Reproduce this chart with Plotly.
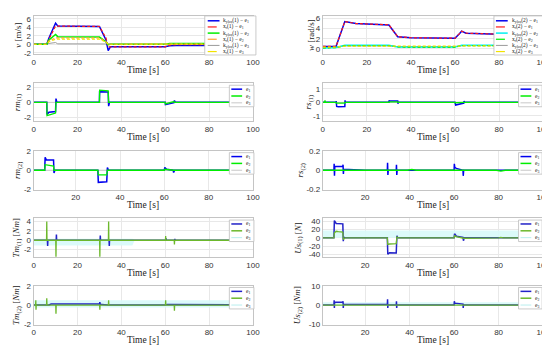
import plotly.graph_objects as go

W, H = 550, 345

# ---------------- data ----------------
# Panel 1: linear velocity v
t_v = [0, 6, 7, 10, 11, 30, 33, 34, 35, 60, 62, 64, 65, 100]
v_k1 = [0, 0, 1.5, 5.0, 4.3, 4.2, 1.0, -1.5, -0.6, -0.6, -0.35, -0.3, -0.3, -0.3]
v_x1 = [0, 0, 1.2, 4.3, 4.3, 4.2, 1.5, -0.6, -0.6, -0.6, -0.2, -0.1, -0.1, -0.1]
v_k2 = [0, 0, 1.0, 2.3, 1.8, 1.7, 0.6, -0.1, 0.0, 0.0, 0.2, 0.2, 0.2, 0.2]
v_x2 = [0, 0, 0.8, 1.5, 1.5, 1.5, 0.6, 0.0, 0.0, 0.0, 0.1, 0.1, 0.1, 0.1]
v_k3 = [0, 0, 0.2, 0.4, 0.1, 0.05, 0.0, 0, 0, 0, 0, 0, 0, 0]
v_x3 = [0, 0, 0.6, 1.2, 1.2, 1.2, 0.5, 0, 0, 0, 0.05, 0.05, 0.05, 0.05]

# Panel 2: angular velocity w
t_w = [0, 6, 10, 15, 30, 34, 40, 60, 62, 63, 65, 80, 100]
w_k1 = [0.5, 0.5, 5.4, 5.0, 4.7, 2.4, 2.2, 2.1, 3.0, 3.5, 3.1, 2.9, 2.8]
w_x1 = [0.5, 0.5, 5.4, 5.0, 4.75, 2.4, 2.2, 2.1, 3.0, 3.5, 3.1, 2.9, 2.8]
w_k2 = [0.2, 0.3, 0.7, 0.7, 0.7, 0.4, 0.4, 0.4, 0.6, 0.7, 0.7, 0.7, 0.7]
w_x2 = [0.2, 0.25, 0.65, 0.65, 0.65, 0.4, 0.35, 0.35, 0.55, 0.65, 0.65, 0.65, 0.65]
w_k3 = [0.4, 0.4, 0.6, 0.6, 0.6, 0.45, 0.45, 0.45, 0.6, 0.65, 0.65, 0.65, 0.65]
w_x3 = [0.35, 0.35, 0.55, 0.55, 0.55, 0.45, 0.45, 0.45, 0.55, 0.6, 0.6, 0.6, 0.6]

# Panel 3: rm(1)
t_rm1_e1 = [0, 6, 6.1, 7, 10, 10.2, 10.6, 30, 30.1, 34, 34.2, 34.6, 60, 60.1, 64, 64.2, 64.6, 100]
rm1_e1 = [0, 0, -1.6, -1.3, -1.2, 0.5, 0, 0, 1.4, 1.35, -0.5, 0, 0, -0.3, -0.05, 0.25, 0, 0]
t_rm1_e2 = [0, 6, 6.1, 10, 10.2, 30, 30.1, 34, 34.2, 60, 60.1, 64, 64.2, 100]
rm1_e2 = [0, 0, -1.75, -1.4, 0, 0, 1.6, 1.5, 0, 0, -0.2, 0.1, 0, 0]
t_rm1_e3 = [0, 100]
rm1_e3 = [0, 0]

# Panel 4: rs(1)
t_rs1_e1 = [0, 6, 6.1, 6.3, 7, 10, 10.1, 10.3, 30, 30.1, 30.3, 34, 34.1, 34.3,
            60, 60.1, 60.3, 64, 64.1, 64.3, 100]
rs1_e1 = [0, 0, 0.1, -0.3, -0.32, -0.3, 0.15, 0, 0, 0.15, 0.1, 0.1, -0.1, 0,
          0, -0.15, -0.2, -0.05, 0.1, 0, 0]
t_rs1_e2 = [0, 0.8, 1, 1.2, 6, 6.1, 10, 10.1, 30, 30.1, 34, 34.1, 60, 60.1, 64, 64.1, 100]
rs1_e2 = [0, 0, 0.15, 0, 0, -0.05, -0.05, 0, 0, 0.03, 0.03, 0, 0, -0.03, 0, 0, 0]
t_rs1_e3 = [0, 100]
rs1_e3 = [0, 0]

# Panel 5: rm(2)
t_rm2_e1 = [1, 6, 6.2, 6.8, 10, 10.2, 10.6, 30, 30.2, 34, 34.3, 34.8, 60, 60.2, 61, 64, 64.2, 64.6, 100]
rm2_e1 = [0, 0, 1.4, 1.1, 1.1, -0.3, 0, 0, -1.3, -1.25, 0.3, 0, 0, 0.3, 0.1, 0.0, -0.25, 0, 0]
t_rm2_e2 = [1, 6, 6.2, 10, 10.2, 30, 30.2, 34, 34.3, 60, 60.2, 64, 64.2, 100]
rm2_e2 = [0, 0, 0.6, 0.45, 0, 0, -0.5, -0.5, 0, 0, 0.1, 0, 0, 0]
t_rm2_e3 = [1, 100]
rm2_e3 = [0, 0]

# Panel 6: rs(2)
t_rs2_e1 = [1, 6, 6.1, 6.25, 6.4, 10, 10.1, 10.25, 10.4, 20, 30, 30.1, 30.25, 30.4,
            34, 34.1, 34.25, 34.4, 60, 60.1, 60.3, 61, 64, 64.1, 64.3, 100]
rs2_e1 = [0, 0, 0.07, -0.06, 0.04, 0.04, 0.06, -0.04, 0.01, 0.0, 0, 0.08, -0.05, 0,
          0, 0.06, -0.05, 0, 0, 0.07, 0.03, 0.02, 0.0, -0.06, 0, 0]
t_rs2_e2 = [1, 39, 41, 43, 79, 81, 83, 100]
rs2_e2 = [0, 0, 0.01, 0, 0, -0.01, 0, 0]
t_rs2_e3 = [1, 100]
rs2_e3 = [0, 0]

# Panel 7: Tm(1)
t_tm1_e1 = [0, 6.3, 6.4, 6.5, 10.3, 10.4, 10.5, 30.3, 30.4, 30.5, 34.4, 34.5, 34.6,
            60.3, 60.4, 60.5, 64.3, 64.4, 64.5, 100]
tm1_e1 = [0, 0, -1.2, 0, 0, 1.2, 0, 0, 1.0, 0, 0, -1.2, 0, 0, 0.4, 0, 0, 0.3, 0, 0]
t_tm1_e2 = [0, 5.9, 6.0, 6.1, 10.1, 10.2, 10.3, 30.1, 30.2, 30.3, 34.1, 34.2, 34.3,
            60.1, 60.2, 60.3, 64.1, 64.2, 64.3, 100]
tm1_e2 = [0, 0, 4.0, 0, 0, -3.5, 0, 0, -3.5, 0, 0, 4.0, 0, 0, 0.9, 0, 0, -0.9, 0, 0]
t_tm1_e3 = [0, 45, 46, 100]
tm1_e3_lo = [-1.1, -1.1, -0.1, -0.1]
tm1_e3_hi = [0.3, 0.3, 0.1, 0.1]

# Panel 8: Us(1)
t_us1_e1 = [1, 6, 6.2, 6.6, 7, 10, 10.2, 10.4, 10.8, 30, 30.2, 30.6, 31, 34, 34.3, 34.6, 35,
            40, 41, 42, 60, 60.2, 61, 64, 64.2, 64.5, 100]
us1_e1 = [0, 0, 42, 36, 35, 34, -8, 2, 0, 0, -40, -37, -36, -37, 5, 1, 0,
          0, -1, 0, 0, 10, 4, 1, -7, 0, 0]
t_us1_e2 = [1, 6, 6.2, 7, 8, 10, 10.2, 10.5, 11, 30, 30.2, 31, 34, 34.3, 34.6, 35,
            60, 60.2, 61, 64, 64.2, 80, 81, 82, 100]
us1_e2 = [0, 0, 12, 16, 15, 14, -4, -2, 0, 0, -16, -15, -14, 2, 0, 0,
          0, 5, 3, 0, -1, 0, 1, 0, 0]
t_us1_e3 = [1, 100]
us1_e3_lo = [0, 0]
us1_e3_hi = [18, 18]

# Panel 9: Tm(2)
t_tm2_e1 = [0, 7, 8, 29, 30, 30.2, 30.4, 31, 34, 60, 61, 90, 100]
tm2_e1 = [0, 0, 0.1, 0.1, 0.1, 0.3, 0.05, 0.05, 0, 0, 0.05, 0.02, 0]
t_tm2_e2 = [0, 0.9, 1.0, 1.1, 1.2, 5.9, 6.0, 6.1, 10.1, 10.2, 10.3, 30.1, 30.2, 30.3,
            34.1, 34.2, 34.3, 60.1, 60.2, 60.3, 64.1, 64.2, 64.3, 100]
tm2_e2 = [0, 0, 0.5, -0.5, 0, 0, 0.7, 0, 0, -0.9, 0, 0, -0.5, 0,
          0, 0.5, 0, 0, 0.5, 0, 0, -0.6, 0, 0]
t_tm2_e3 = [0, 100]
tm2_e3_lo = [-0.25, -0.25]
tm2_e3_hi = [0.5, 0.5]

# Panel 10: Us(2)
t_us2_e1 = [1, 6, 6.1, 6.2, 6.3, 10, 10.1, 10.2, 10.3, 30, 30.1, 30.2, 30.3,
            34, 34.1, 34.2, 34.3, 60, 60.1, 60.3, 64, 64.1, 64.2, 100]
us2_e1 = [0, 0, 2.5, -1.5, 1.5, 1.5, 2, -1.5, 0.3, 0.3, 3, -1.5, 0,
          0, 2, -1.5, 0, 0, 2, 1, 0.5, -1.5, 0, 0]
t_us2_e2 = [1, 100]
us2_e2 = [0, 0]
t_us2_e3 = [1, 100]
us2_e3_lo = [-0.5, -0.5]
us2_e3_hi = [1.5, 1.5]

x_ticks_full = [0, 20, 40, 60, 80, 100]
x_ticks_part = [20, 40, 60, 80, 100]

legend_top_left = ["k<sub>ylos</sub>(1) − e<sub>1</sub>", "x<sub>r</sub>(1) − e<sub>1</sub>",
                   "k<sub>ylos</sub>(1) − e<sub>2</sub>", "x<sub>r</sub>(1) − e<sub>2</sub>",
                   "k<sub>ylos</sub>(1) − e<sub>3</sub>", "x<sub>r</sub>(1) − e<sub>3</sub>"]
legend_top_right = ["k<sub>ylos</sub>(2) − e<sub>1</sub>", "x<sub>r</sub>(2) − e<sub>1</sub>",
                    "k<sub>ylos</sub>(2) − e<sub>2</sub>", "x<sub>r</sub>(2) − e<sub>2</sub>",
                    "k<sub>ylos</sub>(2) − e<sub>3</sub>", "x<sub>r</sub>(2) − e<sub>3</sub>"]
legend_small = ["e<sub>1</sub>", "e<sub>2</sub>", "e<sub>3</sub>"]

# ---------------- styling ----------------
BLUE = "#0000ee"
RED = "#ff1a1a"
GREEN = "#00ee00"
ORANGE = "#ffa033"
GRAY = "#9a9a9a"
YELLOW = "#f2e200"
CYAN = "#00f0f0"
DBLUE = "#2222c8"
OLIVE = "#6cb82c"
LCYAN = "rgba(215,250,250,0.9)"
LGRAY = "#c8c8c8"

COLS = [(24, 247), (318, 542)]
ROWS = [(4, 43), (73, 112), (142, 182), (211, 251), (280, 320)]


def px(x):
    return x / W


def py(y):
    return 1 - y / H


fig = go.Figure()


def sfx(k):
    return "" if k == 1 else str(k)


def line(k, t, y, color, width=1.3, dash="solid"):
    fig.add_trace(go.Scatter(x=t, y=y, mode="lines",
                             line=dict(color=color, width=width, dash=dash),
                             xaxis="x" + sfx(k), yaxis="y" + sfx(k),
                             showlegend=False, hoverinfo="skip"))


def band(k, t, lo, hi, color):
    fig.add_trace(go.Scatter(x=t, y=lo, mode="lines", line=dict(width=0, color=color),
                             xaxis="x" + sfx(k), yaxis="y" + sfx(k),
                             showlegend=False, hoverinfo="skip"))
    fig.add_trace(go.Scatter(x=t, y=hi, mode="lines", line=dict(width=0, color=color),
                             fill="tonexty", fillcolor=color,
                             xaxis="x" + sfx(k), yaxis="y" + sfx(k),
                             showlegend=False, hoverinfo="skip"))


DASH = "3px,2px"

# panel 1
line(1, t_v, v_k3, GRAY, 1.0)
line(1, t_v, v_k1, BLUE, 1.5)
line(1, t_v, v_x1, RED, 1.2, DASH)
line(1, t_v, v_k2, GREEN, 1.5)
line(1, t_v, v_x2, ORANGE, 1.2, DASH)
line(1, t_v, v_x3, YELLOW, 1.2, DASH)
# panel 2
line(2, t_w, w_k3, GRAY, 1.0)
line(2, t_w, w_k1, BLUE, 1.5)
line(2, t_w, w_x1, RED, 1.2, DASH)
line(2, t_w, w_k2, CYAN, 1.5)
line(2, t_w, w_x2, GREEN, 1.2, DASH)
line(2, t_w, w_x3, YELLOW, 1.2, DASH)
# panel 3-6
line(3, t_rm1_e3, rm1_e3, LGRAY, 1.0)
line(3, t_rm1_e1, rm1_e1, BLUE, 1.5)
line(3, t_rm1_e2, rm1_e2, GREEN, 1.3)
line(4, t_rs1_e3, rs1_e3, LGRAY, 1.0)
line(4, t_rs1_e1, rs1_e1, BLUE, 1.5)
line(4, t_rs1_e2, rs1_e2, GREEN, 1.3)
line(5, t_rm2_e3, rm2_e3, LGRAY, 1.0)
line(5, t_rm2_e1, rm2_e1, BLUE, 1.5)
line(5, t_rm2_e2, rm2_e2, GREEN, 1.3)
line(6, t_rs2_e3, rs2_e3, LGRAY, 1.0)
line(6, t_rs2_e1, rs2_e1, BLUE, 1.5)
line(6, t_rs2_e2, rs2_e2, GREEN, 1.3)
# panel 7-10
band(7, t_tm1_e3, tm1_e3_lo, tm1_e3_hi, LCYAN)
line(7, t_tm1_e1, tm1_e1, DBLUE, 1.5)
line(7, t_tm1_e2, tm1_e2, OLIVE, 1.3)
band(8, t_us1_e3, us1_e3_lo, us1_e3_hi, LCYAN)
line(8, t_us1_e1, us1_e1, DBLUE, 1.5)
line(8, t_us1_e2, us1_e2, OLIVE, 1.3)
band(9, t_tm2_e3, tm2_e3_lo, tm2_e3_hi, LCYAN)
line(9, t_tm2_e1, tm2_e1, DBLUE, 1.5)
line(9, t_tm2_e2, tm2_e2, OLIVE, 1.3)
band(10, t_us2_e3, us2_e3_lo, us2_e3_hi, LCYAN)
line(10, t_us2_e1, us2_e1, DBLUE, 1.5)
line(10, t_us2_e2, us2_e2, OLIVE, 1.3)

panels = [
    dict(xr=[0, 100], xt=x_ticks_full, yr=[-2.3, 6.7], yt=[-2, 0, 2, 4, 6],
         lab="<i>v</i> [m/s]", lx=8),
    dict(xr=[0, 100], xt=x_ticks_full, yr=[-1.0, 6.5], yt=[0, 2, 4, 6],
         lab="<i>w</i> [rad/s]", lx=306),
    dict(xr=[0, 100], xt=x_ticks_full, yr=[-2.5, 2.5], yt=[-2, 0, 2],
         lab="<i>rm</i><sub>(1)</sub>", lx=8),
    dict(xr=[0, 100], xt=x_ticks_full, yr=[-1.4, 1.4], yt=[-1, 0, 1],
         lab="<i>rs</i><sub>(1)</sub>", lx=304),
    dict(xr=[1, 100], xt=x_ticks_part, yr=[-2.1, 2.1], yt=[-2, 0, 2],
         lab="<i>rm</i><sub>(2)</sub>", lx=8),
    dict(xr=[1, 100], xt=x_ticks_part, yr=[-0.21, 0.21], yt=[-0.2, 0, 0.2],
         lab="<i>rs</i><sub>(2)</sub>", lx=296),
    dict(xr=[0, 100], xt=x_ticks_full, yr=[-3.6, 4.7], yt=[-2, 0, 2, 4],
         lab="<i>Tm</i><sub>(1)</sub> [<i>Nm</i>]", lx=7),
    dict(xr=[1, 100], xt=x_ticks_part, yr=[-47, 48], yt=[-40, -20, 0, 20, 40],
         lab="<i>Us</i><sub>(1)</sub> [<i>N</i>]", lx=293),
    dict(xr=[0, 100], xt=x_ticks_full, yr=[-2.05, 2.05], yt=[-2, 0, 2],
         lab="<i>Tm</i><sub>(2)</sub> [<i>Nm</i>]", lx=7),
    dict(xr=[1, 100], xt=x_ticks_part, yr=[-10.3, 10.3], yt=[-10, 0, 10],
         lab="<i>Us</i><sub>(2)</sub> [<i>Nm</i>]", lx=293),
]

layout = dict(width=W, height=H, margin=dict(l=0, r=0, t=0, b=0),
              paper_bgcolor="white", plot_bgcolor="white", showlegend=False)
annotations = []
shapes = []
TICKFONT = dict(family="Liberation Sans, Arial", size=8, color="#333333")
SERIF = "Liberation Serif, Times New Roman, serif"


def fmt(v):
    return "%g" % v


for k, cfg in enumerate(panels, start=1):
    r, c = (k - 1) // 2, (k - 1) % 2
    xl, xr = COLS[c]
    yt, yb = ROWS[r]
    s = sfx(k)
    layout["xaxis" + s] = dict(domain=[px(xl), px(xr)], anchor="y" + s, range=cfg["xr"],
                               tickvals=cfg["xt"], ticktext=[fmt(v) for v in cfg["xt"]],
                               showgrid=True, gridcolor="#e8e8e8", gridwidth=1,
                               zeroline=False, showline=True, mirror=True,
                               linecolor="#c4c4c4", linewidth=1, ticks="",
                               tickfont=TICKFONT)
    layout["yaxis" + s] = dict(domain=[py(yb), py(yt)], anchor="x" + s, range=cfg["yr"],
                               tickvals=cfg["yt"], ticktext=[fmt(v) for v in cfg["yt"]],
                               showgrid=True, gridcolor="#e8e8e8", gridwidth=1,
                               zeroline=False, showline=True, mirror=True,
                               linecolor="#c4c4c4", linewidth=1, ticks="",
                               tickfont=TICKFONT)
    annotations.append(dict(text="Time [s]", x=px((xl + xr) / 2), y=py(yb + 16),
                            xref="paper", yref="paper", showarrow=False,
                            xanchor="center", yanchor="middle",
                            font=dict(family=SERIF, size=9.5, color="#222")))
    annotations.append(dict(text=cfg["lab"], x=px(cfg["lx"]), y=py((yt + yb) / 2),
                            xref="paper", yref="paper", showarrow=False, textangle=-90,
                            xanchor="center", yanchor="middle",
                            font=dict(family=SERIF, size=9, color="#222")))


def legend(box, entries, lx0, lx1, tx, ys, fsize):
    x0, y0, x1, y1 = box
    shapes.append(dict(type="rect", xref="paper", yref="paper",
                       x0=px(x0), x1=px(x1), y0=py(y1), y1=py(y0),
                       fillcolor="white", line=dict(color="#bdbdbd", width=0.8),
                       layer="above"))
    for (lab, color, dash, wd), yy in zip(entries, ys):
        shapes.append(dict(type="line", xref="paper", yref="paper",
                           x0=px(lx0), x1=px(lx1), y0=py(yy), y1=py(yy),
                           line=dict(color=color, width=wd, dash=dash), layer="above"))
        annotations.append(dict(text=lab, x=px(tx), y=py(yy), xref="paper", yref="paper",
                                showarrow=False, xanchor="left", yanchor="middle",
                                font=dict(family=SERIF, size=fsize, color="#222")))


ys6 = [9 + 6.3 * i for i in range(6)]
legend((198, 4, 250, 44),
       list(zip(legend_top_left, [BLUE, RED, GREEN, ORANGE, GRAY, YELLOW],
                ["solid", "dash", "solid", "dash", "solid", "dash"],
                [1.5, 1.2, 1.5, 1.2, 1.0, 1.2])),
       201, 213, 215, ys6, 5.5)
legend((492, 4, 546, 44),
       list(zip(legend_top_right, [BLUE, RED, CYAN, GREEN, GRAY, YELLOW],
                ["solid", "dash", "solid", "dash", "solid", "dash"],
                [1.5, 1.2, 1.5, 1.2, 1.0, 1.2])),
       494, 506, 508, ys6, 5.5)

for k in range(3, 11):
    r, c = (k - 1) // 2, (k - 1) % 2
    top = ROWS[r][0]
    cols = [BLUE, GREEN, LGRAY] if k <= 6 else [DBLUE, OLIVE, "#b8eeee"]
    ys3 = [top + 6, top + 13, top + 20]
    if c == 0:
        legend((223, top + 2, 248, top + 24),
               list(zip(legend_small, cols, ["solid"] * 3, [1.5, 1.5, 1.0])),
               225, 236, 238, ys3, 5.5)
    else:
        legend((517, top + 2, 541, top + 24),
               list(zip(legend_small, cols, ["solid"] * 3, [1.5, 1.5, 1.0])),
               519, 530, 532, ys3, 5.5)

layout["annotations"] = annotations
layout["shapes"] = shapes
fig.update_layout(**layout)
fig.write_html("out.html")
